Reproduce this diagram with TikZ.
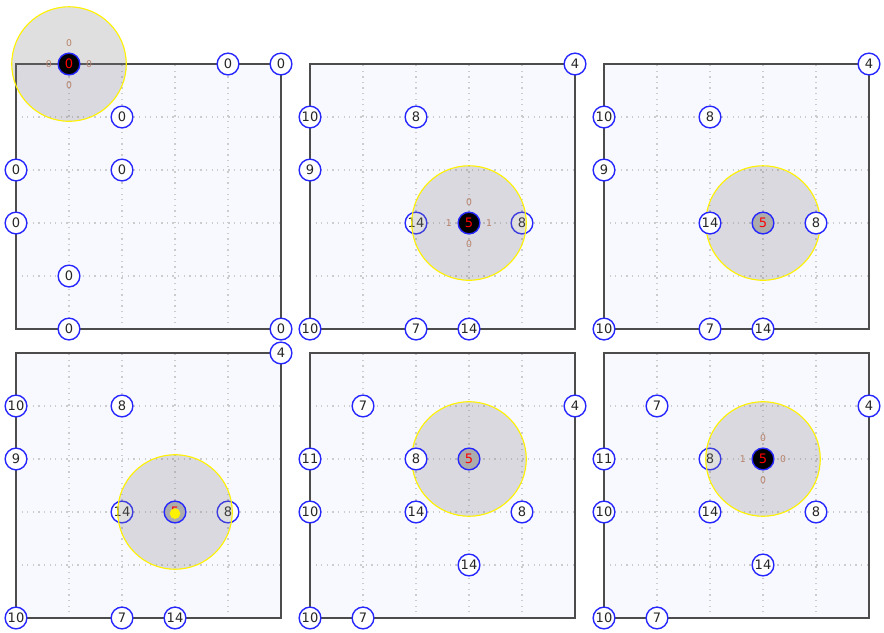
\documentclass[tikz,border=0pt]{standalone}
\usepackage{fontspec}
\setmainfont{DejaVu Sans}
\usepackage{xcolor}
\usepackage{tikz}
\usetikzlibrary{positioning}

\definecolor{ghost}{HTML}{F8F8FF}
\definecolor{sensecol}{HTML}{B88068}

\begin{document}
\begin{tikzpicture}[
    board/.style={draw=black!70, fill=ghost, line width=0.8pt},
    mesh/.style={gray!40, line width=0.6pt, dash pattern=on 0.7pt off 2.3pt},
    cell/.style={
      draw=blue!85!white, fill=white, circle, minimum size=0.41cm,
      inner sep=0pt, line width=0.75pt, text=black!85,
      font=\fontsize{7}{8}\selectfont
    },
    bot/.style={cell, fill=black, text=red},
    idle/.style={cell, fill=gray!65, text=red},
    reach/.style={circle, draw=yellow, line width=0.6pt, fill=gray,
      fill opacity=0.25, minimum size=2.16cm, inner sep=0pt},
    sense/.style={text=sensecol, inner sep=0pt, font=\fontsize{5}{6}\selectfont}
]
  \useasboundingbox (0,0) rectangle (16.679,-11.925);

  % Panel 1 (top left)
  \begin{scope}[shift={(0.302,-1.208)}]
    \draw[board] (0,0) rectangle (5,-5);
    \draw[mesh] (0,-5) grid (5,0);
    \draw[black!70, line width=0.8pt] (0,0) rectangle (5,-5);
    \foreach \c/\r/\t [count=\k] in {4/0/0, 5/0/0, 2/1/0, 0/2/0, 2/2/0, 0/3/0, 1/4/0, 1/5/0, 5/5/0}
      \node[cell] (a-\k) at (\c,-\r) {\t};
    \node[reach] (ra) at (1,0) {};
    \node[bot] (ba) at (1,0) {0};
    \node[sense, above=0.1cm of ba] (ba-n) {0};
    \node[sense, below=0.1cm of ba] (ba-s) {0};
    \node[sense, left=0.1cm of ba] (ba-w) {0};
    \node[sense, right=0.1cm of ba] (ba-e) {0};
  \end{scope}

  % Panel 2 (top middle)
  \begin{scope}[shift={(5.849,-1.208)}]
    \draw[board] (0,0) rectangle (5,-5);
    \draw[mesh] (0,-5) grid (5,0);
    \draw[black!70, line width=0.8pt] (0,0) rectangle (5,-5);
    \foreach \c/\r/\t [count=\k] in {5/0/4, 0/1/10, 2/1/8, 0/2/9, 2/3/14, 4/3/8, 0/5/10, 2/5/7, 3/5/14}
      \node[cell] (b-\k) at (\c,-\r) {\t};
    \node[reach] (rb) at (3,-3) {};
    \node[bot] (bb) at (3,-3) {5};
    \node[sense, above=0.1cm of bb] (bb-n) {0};
    \node[sense, below=0.1cm of bb] (bb-s) {0};
    \node[sense, left=0.1cm of bb] (bb-w) {1};
    \node[sense, right=0.1cm of bb] (bb-e) {1};
  \end{scope}

  % Panel 3 (top right)
  \begin{scope}[shift={(11.396,-1.208)}]
    \draw[board] (0,0) rectangle (5,-5);
    \draw[mesh] (0,-5) grid (5,0);
    \draw[black!70, line width=0.8pt] (0,0) rectangle (5,-5);
    \node[reach] (rc) at (3,-3) {};
    \foreach \c/\r/\t [count=\k] in {5/0/4, 0/1/10, 2/1/8, 0/2/9, 2/3/14, 4/3/8, 0/5/10, 2/5/7, 3/5/14}
      \node[cell] (c-\k) at (\c,-\r) {\t};
    \node[idle] (bc) at (3,-3) {5};
  \end{scope}

  % Panel 4 (bottom left)
  \begin{scope}[shift={(0.302,-6.660)}]
    \draw[board] (0,0) rectangle (5,-5);
    \draw[mesh] (0,-5) grid (5,0);
    \draw[black!70, line width=0.8pt] (0,0) rectangle (5,-5);
    \foreach \c/\r/\t [count=\k] in {5/0/4, 0/1/10, 2/1/8, 0/2/9, 2/3/14, 4/3/8, 0/5/10, 2/5/7, 3/5/14}
      \node[cell] (d-\k) at (\c,-\r) {\t};
    \node[reach] (rd) at (3,-3) {};
    \node[idle] (bd) at (3,-3) {5};
    \node[circle, fill=yellow, minimum size=0.2cm, inner sep=0pt] (bd-dot) at ([yshift=-0.03cm]bd.center) {};
  \end{scope}

  % Panel 5 (bottom middle)
  \begin{scope}[shift={(5.849,-6.660)}]
    \draw[board] (0,0) rectangle (5,-5);
    \draw[mesh] (0,-5) grid (5,0);
    \draw[black!70, line width=0.8pt] (0,0) rectangle (5,-5);
    \node[reach] (re) at (3,-2) {};
    \foreach \c/\r/\t [count=\k] in {1/1/7, 5/1/4, 0/2/11, 2/2/8, 0/3/10, 2/3/14, 4/3/8, 3/4/14, 0/5/10, 1/5/7}
      \node[cell] (e-\k) at (\c,-\r) {\t};
    \node[idle] (be) at (3,-2) {5};
  \end{scope}

  % Panel 6 (bottom right)
  \begin{scope}[shift={(11.396,-6.660)}]
    \draw[board] (0,0) rectangle (5,-5);
    \draw[mesh] (0,-5) grid (5,0);
    \draw[black!70, line width=0.8pt] (0,0) rectangle (5,-5);
    \foreach \c/\r/\t [count=\k] in {1/1/7, 5/1/4, 0/2/11, 2/2/8, 0/3/10, 2/3/14, 4/3/8, 3/4/14, 0/5/10, 1/5/7}
      \node[cell] (f-\k) at (\c,-\r) {\t};
    \node[reach] (rf) at (3,-2) {};
    \node[bot] (bf) at (3,-2) {5};
    \node[sense, above=0.1cm of bf] (bf-n) {0};
    \node[sense, below=0.1cm of bf] (bf-s) {0};
    \node[sense, left=0.1cm of bf] (bf-w) {1};
    \node[sense, right=0.1cm of bf] (bf-e) {0};
  \end{scope}

\end{tikzpicture}
\end{document}
